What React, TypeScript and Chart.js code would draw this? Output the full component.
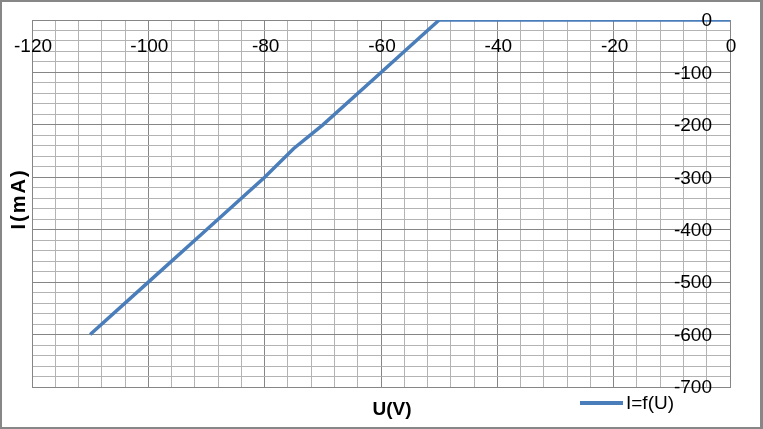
import React, { useEffect, useRef } from "react";
import { Chart, registerables } from "chart.js";

Chart.register(...registerables);

const voltages = [-110, -100, -90, -80, -75, -70, -60, -50, -40, -30, -20, -10, 0];
const currents = [-600, -500, -400, -300, -245, -200, -100, 0, 0, 0, 0, 0, 0];
const seriesLabel = "I=f(U)";
const xTitle = "U(V)";
const yTitle = "I(mA)";
const xRange = [-120, 0];
const yRange = [-700, 0];
const xMinorStep = 4;
const xMajorStep = 20;
const yMinorStep = 20;
const yMajorStep = 100;

const MAJOR = "#868686";
const MINOR = "#b3b3b3";
const LINE = "#4a7ebb";
const FONT = "'Liberation Sans', Arial, sans-serif";

const isMult = (v: number, m: number) => Math.abs(v / m - Math.round(v / m)) < 1e-6;

const decorPlugin = {
  id: "decor",
  beforeDraw(chart: any) {
    const { ctx, width, height } = chart;
    ctx.save();
    ctx.fillStyle = "#ffffff";
    ctx.fillRect(0, 0, width, height);
    ctx.restore();
  },
  afterDraw(chart: any) {
    const { ctx, width, height, scales } = chart;
    const xs = scales.x;
    const ys = scales.y;
    ctx.save();
    // outer border
    ctx.strokeStyle = "#878787";
    ctx.lineWidth = 2;
    ctx.strokeRect(1, 1, width - 3, height - 2);
    ctx.lineWidth = 3;
    ctx.beginPath();
    ctx.moveTo(width - 1.5, 0);
    ctx.lineTo(width - 1.5, height);
    ctx.stroke();

    // tick labels
    ctx.fillStyle = "#000000";
    ctx.font = `19px ${FONT}`;
    ctx.textAlign = "center";
    ctx.textBaseline = "middle";
    const y0 = ys.getPixelForValue(0);
    xs.ticks.forEach((t: any) => {
      if (!isMult(t.value, xMajorStep)) return;
      ctx.fillText(String(t.value), xs.getPixelForValue(t.value) + 1, y0 + 27);
    });
    ctx.textAlign = "right";
    const x0 = xs.getPixelForValue(0);
    ys.ticks.forEach((t: any) => {
      if (!isMult(t.value, yMajorStep)) return;
      ctx.fillText(String(t.value), x0 - 18, ys.getPixelForValue(t.value) + 1);
    });

    // axis titles
    ctx.font = `bold 19px ${FONT}`;
    ctx.textAlign = "center";
    ctx.fillText(xTitle, 392, 410);
    ctx.save();
    ctx.translate(19, 200);
    ctx.rotate(-Math.PI / 2);
    (ctx as any).letterSpacing = "2px";
    ctx.font = `bold 20px ${FONT}`;
    ctx.fillText(yTitle, 1, 0);
    ctx.restore();

    // legend
    ctx.strokeStyle = LINE;
    ctx.lineWidth = 4;
    ctx.beginPath();
    ctx.moveTo(580, 403);
    ctx.lineTo(623, 403);
    ctx.stroke();
    ctx.font = `19px ${FONT}`;
    ctx.textAlign = "left";
    ctx.fillText(seriesLabel, 626, 404);
    ctx.restore();
  },
};

export default function App() {
  const ref = useRef<HTMLCanvasElement | null>(null);
  useEffect(() => {
    if (!ref.current) return;
    const chart = new Chart(ref.current, {
      type: "line",
      data: {
        datasets: [
          {
            label: seriesLabel,
            data: voltages.map((v, i) => ({ x: v, y: currents[i] })),
            borderColor: LINE,
            backgroundColor: LINE,
            borderWidth: 3.5,
            pointRadius: 0,
            tension: 0,
            fill: false,
          },
        ],
      },
      options: {
        responsive: false,
        animation: false,
        layout: { padding: { left: 32, top: 20, right: 33, bottom: 42 } },
        plugins: { legend: { display: false }, tooltip: { enabled: false } },
        scales: {
          x: {
            type: "linear",
            min: xRange[0],
            max: xRange[1],
            ticks: { display: false, stepSize: xMinorStep, maxTicksLimit: 1000 },
            grid: {
              drawTicks: false,
              color: (c: any) => (isMult(c.tick.value, xMajorStep) ? MAJOR : MINOR),
              lineWidth: 1,
            },
            border: { display: true, color: MAJOR },
          },
          y: {
            type: "linear",
            min: yRange[0],
            max: yRange[1],
            ticks: { display: false, stepSize: yMinorStep, maxTicksLimit: 1000 },
            grid: {
              drawTicks: false,
              color: (c: any) => (isMult(c.tick.value, yMajorStep) ? MAJOR : MINOR),
              lineWidth: 1,
            },
            border: { display: true, color: MAJOR },
          },
        },
      },
      plugins: [decorPlugin],
    });
    return () => chart.destroy();
  }, []);
  return (
    <div style={{ position: "fixed", left: 0, top: 0, width: 763, height: 429 }}>
      <canvas ref={ref} width={763} height={429} style={{ display: "block" }} />
    </div>
  );
}
